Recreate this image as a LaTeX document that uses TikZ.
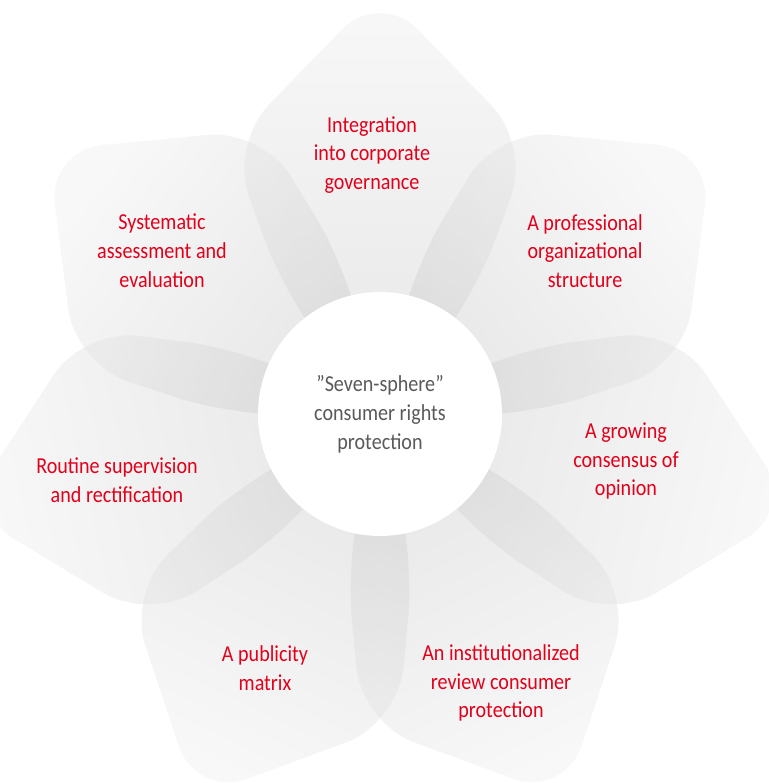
\documentclass[tikz,border=0pt]{standalone}
\usepackage{fontspec}
\setmainfont{Carlito}[FakeStretch=0.88]
\usepackage{xcolor}
\definecolor{labelred}{HTML}{E2001A}
\definecolor{hubgray}{HTML}{5A5A5A}

\begin{document}
\begin{tikzpicture}[x=0.02cm,y=0.02cm,
  petal/.style={rounded corners=1.1cm, fill opacity=0.5, top color=black!5, bottom color=black!19},
  label/.style={align=center, text=labelred, font=\fontsize{13}{16.4}\selectfont},
  hub/.style={circle, fill=white, minimum size=4.88cm, align=center, text=hubgray, font=\fontsize{13}{16.4}\selectfont}]
\useasboundingbox (-380,-368) rectangle (388,415);
\shade[petal, rotate=0,       shading angle=0]       (75,347) -- (150,270) -- (95,120) -- (0,0) -- (-95,120) -- (-150,270) -- (0,425) -- cycle;
\shade[petal, rotate=-51.43,  shading angle=-51.43]  (75,347) -- (150,270) -- (95,120) -- (0,0) -- (-95,120) -- (-150,270) -- (0,425) -- cycle;
\shade[petal, rotate=-102.86, shading angle=-102.86] (75,347) -- (150,270) -- (95,120) -- (0,0) -- (-95,120) -- (-150,270) -- (0,425) -- cycle;
\shade[petal, rotate=-154.29, shading angle=-154.29] (75,347) -- (150,270) -- (95,120) -- (0,0) -- (-95,120) -- (-150,270) -- (0,425) -- cycle;
\shade[petal, rotate=154.29,  shading angle=154.29]  (75,347) -- (150,270) -- (95,120) -- (0,0) -- (-95,120) -- (-150,270) -- (0,425) -- cycle;
\shade[petal, rotate=102.86,  shading angle=102.86]  (75,347) -- (150,270) -- (95,120) -- (0,0) -- (-95,120) -- (-150,270) -- (0,425) -- cycle;
\shade[petal, rotate=51.43,   shading angle=51.43]   (75,347) -- (150,270) -- (95,120) -- (0,0) -- (-95,120) -- (-150,270) -- (0,425) -- cycle;
\node[hub] (hub) at (0,1) {\char"22 Seven-sphere\char"22\\consumer rights\\protection};
\node[label] (governance) at (-8,260) {Integration\\into corporate\\governance};
\node[label] (structure) at (205,164) {A professional\\organizational\\structure};
\node[label] (consensus) at (246,-46) {A growing\\consensus of\\opinion};
\node[label] (review) at (121,-268) {An institutionalized\\review consumer\\protection};
\node[label] (publicity) at (-115,-253) {A publicity\\matrix};
\node[label] (supervision) at (-263,-65) {Routine supervision\\and rectification};
\node[label] (assessment) at (-218,164) {Systematic\\assessment and\\evaluation};
\end{tikzpicture}
\end{document}
